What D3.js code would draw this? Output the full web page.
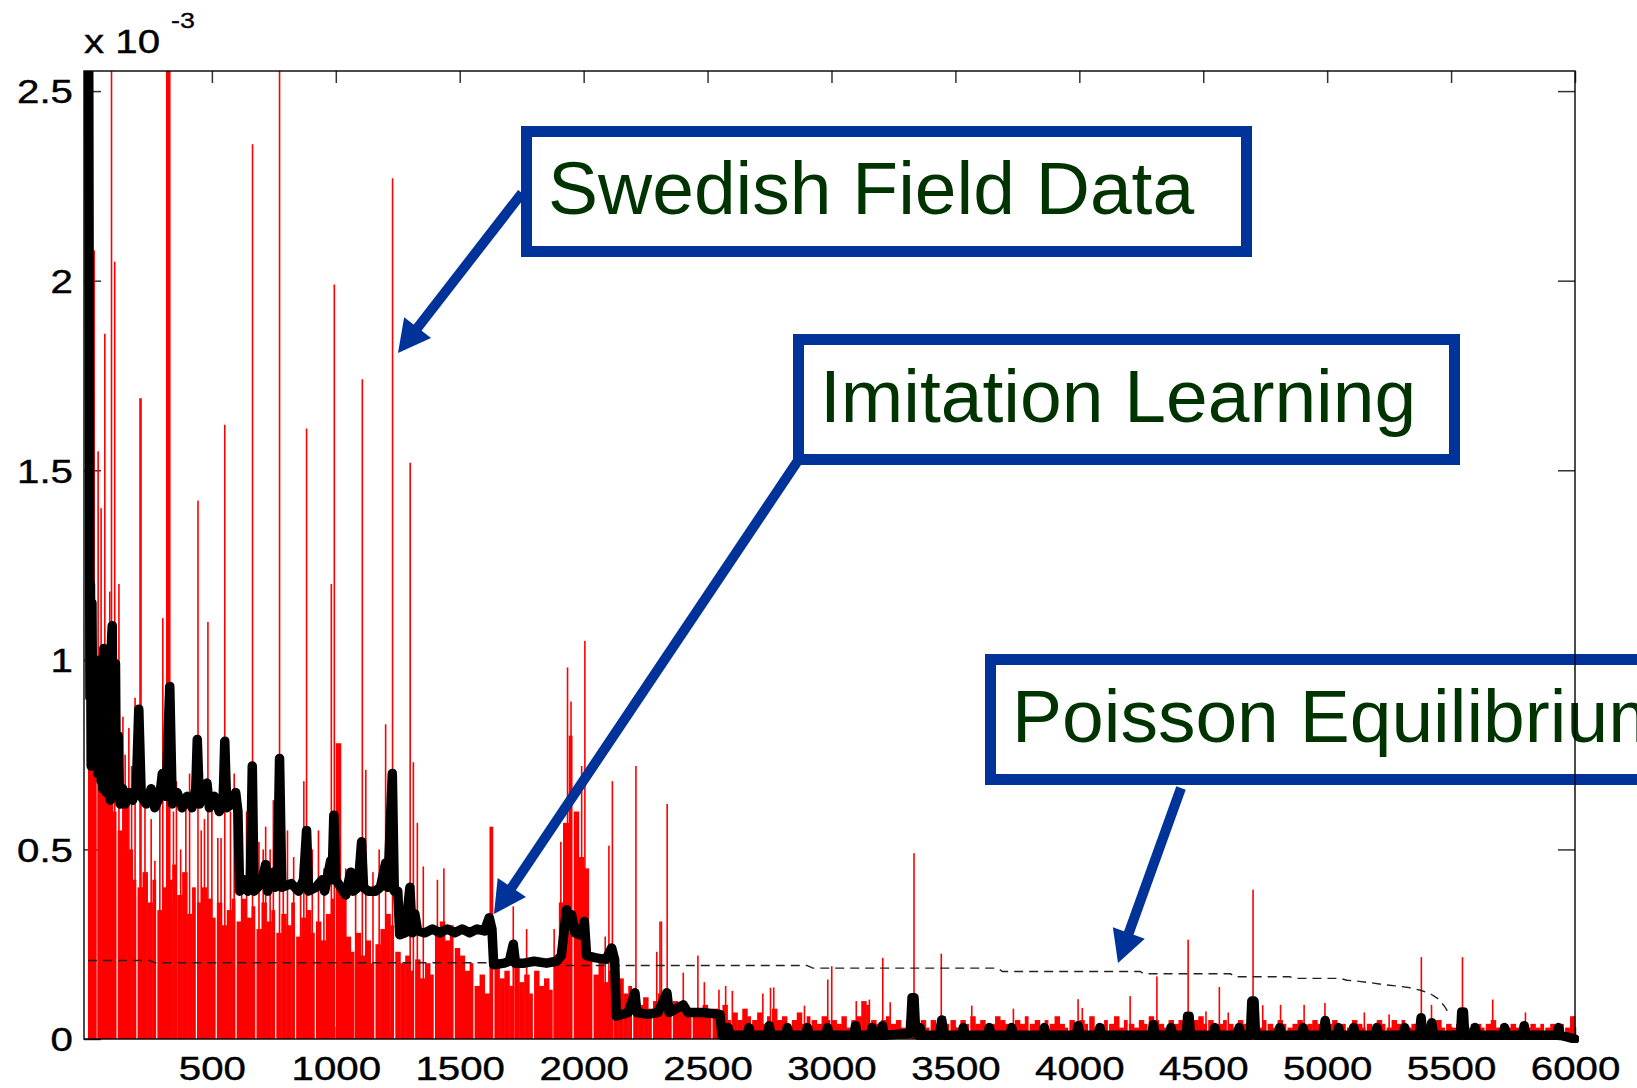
<!DOCTYPE html>
<html>
<head>
<meta charset="utf-8">
<script src="https://cdn.jsdelivr.net/npm/d3@7"></script>
<style>
  body { margin: 0; background: #fff; }
  svg { display: block; }
  text { font-family: "Liberation Sans", Arial, Helvetica, sans-serif; }
</style>
</head>
<body>
<script>
// all values in units of 10^-3
// Swedish field data: envelope of the bars, one value per 20 rounds (0, 20, 40, ...)
var fieldBinWidth = 20;
var fieldBins = [
  1.78, 0.99, 0.72, 0.64, 0.66, 0.60, 0.55, 0.62, 0.50, 0.42,
  0.40, 0.44, 0.36, 0.42, 0.34, 0.40, 0.42, 0.46, 0.38, 0.44,
  0.33, 0.40, 0.36, 0.40, 0.37, 0.32, 0.36, 0.30, 0.34, 0.37,
  0.31, 0.37, 0.32, 0.35, 0.29, 0.36, 0.31, 0.34, 0.28, 0.33,
  0.30, 0.36, 0.27, 0.32, 0.34, 0.28, 0.31, 0.26, 0.33, 0.37,
  0.78, 0.40, 0.27, 0.23, 0.28, 0.22, 0.26, 0.20, 0.25, 0.29,
  0.33, 0.30, 0.23, 0.20, 0.22, 0.18, 0.21, 0.16, 0.20, 0.17,
  0.28, 0.31, 0.26, 0.30, 0.24, 0.22, 0.18, 0.20, 0.14, 0.17,
  0.12, 0.56, 0.20, 0.16, 0.18, 0.14, 0.19, 0.15, 0.17, 0.12,
  0.18, 0.14, 0.16, 0.13, 0.20, 0.36, 0.57, 0.80, 0.60, 0.48,
  0.45, 0.22, 0.17, 0.21, 0.15, 0.18, 0.13, 0.16, 0.12, 0.14,
  0.10, 0.09, 0.11, 0.08, 0.10, 0.12, 0.09, 0.07, 0.10, 0.08,
  0.09, 0.06, 0.08, 0.07, 0.09, 0.06, 0.08, 0.07, 0.09, 0.05,
  0.07, 0.05, 0.08, 0.06, 0.05, 0.07, 0.04, 0.06, 0.08, 0.05,
  0.06, 0.04, 0.05, 0.07, 0.04, 0.06, 0.05, 0.04, 0.06, 0.05,
  0.05, 0.04, 0.06, 0.03, 0.05, 0.06, 0.10, 0.09, 0.05, 0.04,
  0.05, 0.06, 0.04, 0.05, 0.03, 0.05, 0.06, 0.04, 0.05, 0.03,
  0.05, 0.04, 0.06, 0.04, 0.05, 0.03, 0.05, 0.04, 0.06, 0.04,
  0.05, 0.03, 0.04, 0.06, 0.05, 0.04, 0.03, 0.05, 0.04, 0.06,
  0.04, 0.05, 0.03, 0.05, 0.04, 0.06, 0.04, 0.03, 0.05, 0.04,
  0.05, 0.04, 0.06, 0.03, 0.04, 0.05, 0.04, 0.06, 0.03, 0.05,
  0.04, 0.03, 0.05, 0.04, 0.06, 0.05, 0.04, 0.03, 0.05, 0.04,
  0.05, 0.04, 0.03, 0.05, 0.06, 0.04, 0.05, 0.03, 0.04, 0.05,
  0.04, 0.03, 0.05, 0.04, 0.06, 0.04, 0.03, 0.05, 0.04, 0.03,
  0.05, 0.04, 0.03, 0.04, 0.05, 0.03, 0.04, 0.05, 0.04, 0.03,
  0.04, 0.05, 0.03, 0.04, 0.03, 0.05, 0.04, 0.03, 0.04, 0.03,
  0.05, 0.04, 0.03, 0.05, 0.04, 0.05, 0.03, 0.04, 0.05, 0.04,
  0.03, 0.04, 0.05, 0.03, 0.04, 0.03, 0.04, 0.05, 0.03, 0.04,
  0.04, 0.03, 0.04, 0.05, 0.03, 0.04, 0.03, 0.04, 0.03, 0.04,
  0.03, 0.04, 0.03, 0.04, 0.03, 0.04, 0.03, 0.04, 0.03, 0.06
];

// single tall bars of the field data [round, value]
var fieldSpikes = [
  [18, 1.78], [25, 2.08], [41, 1.55], [53, 1.40], [68, 1.86], [88, 1.18], [95, 2.60],
  [108, 2.05], [125, 1.20], [141, 0.85], [150, 0.75], [165, 0.82], [176, 0.72], [190, 0.90],
  [210, 1.69], [214, 1.69], [230, 0.62], [255, 0.58], [270, 0.47], [290, 0.66], [302, 1.11],
  [318, 2.60], [321, 2.60], [324, 2.60], [327, 2.60], [330, 2.60], [345, 0.60], [357, 0.68],
  [374, 0.50], [395, 0.62], [410, 0.70], [444, 1.42], [457, 0.55], [470, 0.58], [484, 1.10],
  [500, 0.64], [524, 0.53], [537, 0.53], [552, 1.62], [575, 0.60], [590, 0.70], [620, 0.55],
  [640, 0.60], [664, 2.36], [690, 0.52], [707, 0.50], [717, 0.56], [735, 0.50], [748, 0.63],
  [773, 2.60], [788, 0.44], [805, 0.55], [830, 0.48], [858, 0.46], [871, 0.68], [882, 1.61],
  [905, 0.50], [930, 0.55], [952, 0.45], [982, 1.20], [994, 1.99], [1040, 0.45], [1080, 0.42],
  [1107, 1.74], [1121, 0.71], [1150, 0.44], [1175, 0.50], [1201, 0.83], [1229, 2.27],
  [1300, 1.52], [1313, 0.73], [1329, 0.57], [1353, 0.455], [1410, 0.42], [1436, 0.45],
  [1716, 0.35], [1770, 0.29], [1881, 0.29], [1908, 0.52], [1920, 0.57], [1935, 0.98],
  [1949, 0.89], [1992, 0.72], [2005, 1.05], [2087, 0.27], [2102, 0.51], [2116, 0.68],
  [2211, 0.72], [2295, 0.23], [2308, 0.31], [2314, 0.31], [2337, 0.62], [2402, 0.175],
  [2461, 0.22], [2487, 0.15], [2546, 0.13], [2573, 0.14], [2600, 0.127], [2723, 0.12],
  [2754, 0.135], [2767, 0.136], [2891, 0.088], [2985, 0.157], [3001, 0.192], [3100, 0.10],
  [3153, 0.104], [3207, 0.214], [3237, 0.097], [3333, 0.49], [3443, 0.225], [3566, 0.088],
  [3734, 0.08], [3995, 0.105], [4012, 0.082], [4205, 0.113], [4313, 0.165], [4439, 0.262],
  [4511, 0.073], [4565, 0.137], [4601, 0.07], [4701, 0.394], [4740, 0.089], [4812, 0.09],
  [4907, 0.09], [4991, 0.095], [5150, 0.07], [5250, 0.065], [5380, 0.216], [5421, 0.09],
  [5546, 0.216], [5668, 0.104], [5800, 0.07], [5996, 0.06]
];

// imitation learning model [round, value]
var imitation = [
  [0, 2.6], [3, 2.6], [6, 1.58], [8, 0.9], [10, 1.2], [13, 0.72], [16, 1.15], [19, 0.8],
  [22, 1.0], [25, 0.72], [28, 0.98], [31, 0.75], [34, 0.95], [37, 0.99], [40, 0.70],
  [44, 0.95], [47, 0.72], [50, 1.0], [53, 0.68], [57, 0.96], [60, 0.66], [64, 1.03],
  [67, 0.70], [71, 0.98], [74, 0.65], [78, 0.9], [82, 0.66], [86, 0.85], [90, 0.63],
  [95, 1.05], [98, 1.09], [101, 0.72], [105, 0.95], [108, 0.66], [111, 0.99], [114, 0.70],
  [118, 0.64], [122, 0.80], [126, 0.66], [130, 0.62],
  [140, 0.66], [150, 0.62], [165, 0.65], [180, 0.63], [195, 0.66], [205, 0.87], [215, 0.64],
  [235, 0.62], [255, 0.66], [270, 0.61], [290, 0.64], [300, 0.70], [315, 0.64], [330, 0.93],
  [340, 0.62], [360, 0.65], [380, 0.61], [400, 0.64], [420, 0.61], [435, 0.66], [441, 0.79],
  [450, 0.62], [470, 0.66], [480, 0.675], [490, 0.61], [510, 0.64], [530, 0.60], [545, 0.62],
  [552, 0.785], [560, 0.61], [580, 0.62], [596, 0.65], [605, 0.60], [612, 0.39], [630, 0.42],
  [645, 0.39], [655, 0.41], [663, 0.72], [670, 0.39], [700, 0.41], [717, 0.46], [725, 0.39],
  [746, 0.44], [755, 0.40], [765, 0.42], [773, 0.74], [782, 0.40], [820, 0.41], [850, 0.39],
  [870, 0.42], [882, 0.55], [890, 0.39], [920, 0.40], [945, 0.42], [955, 0.39], [979, 0.47],
  [985, 0.42], [992, 0.59], [1000, 0.42], [1020, 0.40], [1040, 0.38], [1060, 0.44],
  [1070, 0.39], [1090, 0.40], [1104, 0.52], [1112, 0.40], [1130, 0.39], [1160, 0.39],
  [1180, 0.40], [1201, 0.464], [1210, 0.40], [1228, 0.70], [1236, 0.39], [1250, 0.39],
  [1258, 0.275], [1280, 0.28], [1299, 0.40], [1308, 0.28], [1319, 0.33], [1330, 0.285],
  [1360, 0.28], [1390, 0.29], [1420, 0.28], [1450, 0.29], [1480, 0.28], [1510, 0.29],
  [1540, 0.28], [1570, 0.29], [1600, 0.285], [1619, 0.32], [1630, 0.29], [1637, 0.196],
  [1680, 0.20], [1700, 0.205], [1716, 0.25], [1725, 0.20], [1760, 0.20], [1800, 0.205],
  [1850, 0.20], [1890, 0.205], [1910, 0.22], [1931, 0.341], [1945, 0.30], [1951, 0.328],
  [1965, 0.28], [1985, 0.275], [2003, 0.31], [2012, 0.22], [2050, 0.214], [2090, 0.21],
  [2113, 0.24], [2125, 0.21], [2132, 0.06], [2180, 0.07], [2207, 0.122], [2215, 0.07],
  [2260, 0.065], [2300, 0.07], [2336, 0.122], [2345, 0.07], [2402, 0.09], [2420, 0.07],
  [2480, 0.07], [2550, 0.065], [2558, 0.01], [2578, 0.01], [2583, 0.03], [2590, 0.01],
  [2660, 0.01], [2667, 0.03], [2674, 0.01], [2742, 0.01], [2749, 0.035], [2756, 0.01],
  [2815, 0.01], [2822, 0.03], [2829, 0.01], [2896, 0.01], [2903, 0.03], [2910, 0.01],
  [2977, 0.01], [2984, 0.03], [2991, 0.01], [3090, 0.01], [3097, 0.035], [3104, 0.01],
  [3157, 0.01], [3164, 0.03], [3171, 0.01], [3199, 0.01], [3206, 0.035], [3213, 0.01],
  [3318, 0.015], [3325, 0.109], [3333, 0.109], [3340, 0.015], [3350, 0.01], [3357, 0.03],
  [3364, 0.01], [3436, 0.01], [3445, 0.05], [3454, 0.01], [3525, 0.01], [3532, 0.03],
  [3539, 0.01], [3630, 0.01], [3637, 0.03], [3644, 0.01], [3720, 0.01], [3727, 0.03],
  [3734, 0.01], [3852, 0.01], [3859, 0.03], [3866, 0.01], [3988, 0.01], [3995, 0.035],
  [4002, 0.01], [4076, 0.01], [4083, 0.03], [4090, 0.01], [4292, 0.01], [4299, 0.038],
  [4306, 0.01], [4363, 0.01], [4370, 0.03], [4377, 0.01], [4432, 0.01], [4437, 0.06],
  [4443, 0.06], [4448, 0.01], [4540, 0.01], [4547, 0.03], [4554, 0.01], [4638, 0.01],
  [4645, 0.03], [4652, 0.01], [4690, 0.01], [4696, 0.10], [4705, 0.10], [4711, 0.01],
  [4802, 0.01], [4809, 0.03], [4816, 0.01], [4896, 0.01], [4903, 0.03], [4910, 0.01],
  [4984, 0.01], [4992, 0.049], [5000, 0.01], [5039, 0.01], [5046, 0.03], [5053, 0.01],
  [5100, 0.01], [5107, 0.03], [5114, 0.01], [5194, 0.01], [5201, 0.03], [5208, 0.01],
  [5306, 0.01], [5313, 0.03], [5320, 0.01], [5372, 0.01], [5379, 0.056], [5386, 0.01],
  [5415, 0.01], [5422, 0.043], [5429, 0.01], [5538, 0.01], [5543, 0.071], [5550, 0.071],
  [5555, 0.01], [5590, 0.01], [5597, 0.03], [5604, 0.01], [5709, 0.01], [5716, 0.03],
  [5723, 0.01], [5788, 0.01], [5795, 0.035], [5802, 0.01], [5927, 0.01], [5934, 0.03],
  [5941, 0.01], [6000, 0.0]
];

// Poisson equilibrium [round, value]
var poisson = [
  [0, 0.207], [250, 0.207], [270, 0.201], [1925, 0.201], [1930, 0.194], [2900, 0.194],
  [2925, 0.187], [3670, 0.187], [3690, 0.178], [4245, 0.178], [4260, 0.172], [4610, 0.172],
  [4630, 0.164], [4850, 0.164], [4870, 0.160], [5050, 0.160], [5080, 0.155], [5130, 0.152],
  [5180, 0.148], [5230, 0.143], [5280, 0.140], [5335, 0.135], [5380, 0.128], [5415, 0.120],
  [5450, 0.105], [5475, 0.085], [5492, 0.065]
];

var xTicks = [500, 1000, 1500, 2000, 2500, 3000, 3500, 4000, 4500, 5000, 5500, 6000];
var yTicks = [0, 0.5, 1, 1.5, 2, 2.5];
var yExponent = "-3";

var labels = ["Swedish Field Data", "Imitation Learning", "Poisson Equilibrium"];

var width = 1637, height = 1088;
var plotLeft = 84, plotRight = 1575, plotTop = 71, plotBottom = 1039;
var stretch = 1.22;   // tick labels in the original are widened
var blue = "#003399", green = "#003300";

var svg = d3.select("body").append("svg")
    .attr("width", width)
    .attr("height", height);

var x = d3.scaleLinear().domain([-16, 6000]).range([plotLeft, plotRight]);
var y = d3.scaleLinear().domain([0, 2.553]).range([plotBottom, plotTop]);

svg.append("clipPath").attr("id", "plot")
    .append("rect")
    .attr("x", plotLeft).attr("y", plotTop)
    .attr("width", plotRight - plotLeft + 4).attr("height", plotBottom - plotTop + 4);

// ticks (under the data, like matlab)
var gx = svg.append("g")
    .attr("transform", "translate(0," + plotBottom + ")")
    .call(d3.axisBottom(x).tickValues(xTicks).tickSize(-12).tickFormat(d3.format("d")));
var gxTop = svg.append("g")
    .attr("transform", "translate(0," + plotTop + ")")
    .call(d3.axisTop(x).tickValues(xTicks).tickSize(-12).tickFormat(""));
var gy = svg.append("g")
    .attr("transform", "translate(" + plotLeft + ",0)")
    .call(d3.axisLeft(y).tickValues(yTicks).tickSize(-17).tickFormat(function (d) { return String(d); }));
var gyRight = svg.append("g")
    .attr("transform", "translate(" + plotRight + ",0)")
    .call(d3.axisRight(y).tickValues(yTicks).tickSize(-17).tickFormat(""));

[gx, gxTop, gy, gyRight].forEach(function (g) {
    g.select(".domain").remove();
    g.selectAll(".tick line").attr("stroke", "#333").attr("stroke-width", 1.5);
});

gx.selectAll("text")
    .attr("font-size", 33)
    .attr("fill", "#000")
    .attr("stroke", "#000")
    .attr("stroke-width", 0.4)
    .attr("y", 41)
    .attr("dy", "0")
    .attr("transform", "scale(" + stretch + ",1)");

gy.selectAll("text")
    .attr("font-size", 33)
    .attr("fill", "#000")
    .attr("stroke", "#000")
    .attr("stroke-width", 0.4)
    .attr("x", -11 / stretch)
    .attr("dy", "0.36em")
    .attr("transform", "scale(" + stretch + ",1)");

svg.append("text")
    .attr("transform", "translate(84,53) scale(" + stretch + ",1)")
    .attr("font-size", 33)
    .attr("stroke", "#000")
    .attr("stroke-width", 0.4)
    .text("x 10");
svg.append("text")
    .attr("transform", "translate(171,28) scale(" + stretch + ",1)")
    .attr("font-size", 22)
    .attr("stroke", "#000")
    .attr("stroke-width", 0.3)
    .text(yExponent);

var plot = svg.append("g").attr("clip-path", "url(#plot)");

// red field data bars
plot.append("g")
    .selectAll("rect")
    .data(fieldBins)
    .enter().append("rect")
    .attr("x", function (d, i) { return x(i * fieldBinWidth); })
    .attr("width", function (d, i) {
        var w = x((i + 1) * fieldBinWidth) - x(i * fieldBinWidth);
        return i % 4 === 1 ? w - 1.2 : w + 0.5;
    })
    .attr("y", function (d) { return y(d); })
    .attr("height", function (d) { return y(0) - y(d); })
    .attr("fill", "#ff0000");

plot.append("g")
    .selectAll("rect")
    .data(fieldSpikes)
    .enter().append("rect")
    .attr("x", function (d) { return x(d[0]) - 0.8; })
    .attr("width", 1.6)
    .attr("y", function (d) { return y(d[1]); })
    .attr("height", function (d) { return y(0) - y(d[1]); })
    .attr("fill", "#ff0000");

var line = d3.line()
    .x(function (d) { return x(d[0]); })
    .y(function (d) { return y(d[1]); });

// poisson equilibrium, thin dashed
plot.append("path")
    .datum(poisson)
    .attr("d", line)
    .attr("fill", "none")
    .attr("stroke", "#222")
    .attr("stroke-width", 1.4)
    .attr("stroke-dasharray", "9,6");

// imitation learning, thick black
plot.append("path")
    .datum(imitation)
    .attr("d", line)
    .attr("fill", "none")
    .attr("stroke", "#000")
    .attr("stroke-width", 9.5)
    .attr("stroke-linejoin", "round")
    .attr("stroke-linecap", "round");

// annotation boxes
var boxes = [
    { x: 521, y: 126, w: 731, text: labels[0] },
    { x: 793, y: 334, w: 667, text: labels[1] },
    { x: 985, y: 654, w: 720, text: labels[2] }
];

boxes.forEach(function (b) {
    svg.append("rect")
        .attr("x", b.x + 5.5).attr("y", b.y + 5.5)
        .attr("width", b.w - 11).attr("height", 120)
        .attr("fill", "none")
        .attr("stroke", blue)
        .attr("stroke-width", 11);
    svg.append("text")
        .attr("x", b.x + 27)
        .attr("y", b.y + 88)
        .attr("font-size", 75)
        .attr("fill", green)
        .text(b.text);
});

function arrow(x1, y1, x2, y2) {
    var dx = x2 - x1, dy = y2 - y1, len = Math.sqrt(dx * dx + dy * dy);
    var ux = dx / len, uy = dy / len;
    var headLen = 32, headW = 34;
    var bx = x2 - ux * headLen, by = y2 - uy * headLen;
    svg.append("line")
        .attr("x1", x1).attr("y1", y1)
        .attr("x2", bx + ux * 2).attr("y2", by + uy * 2)
        .attr("stroke", blue)
        .attr("stroke-width", 10);
    svg.append("polygon")
        .attr("points", [
            [x2, y2],
            [bx - uy * headW / 2, by + ux * headW / 2],
            [bx + uy * headW / 2, by - ux * headW / 2]
        ].map(function (p) { return p.join(","); }).join(" "))
        .attr("fill", blue);
}

arrow(522, 193, 398, 353);
arrow(797, 462, 494, 914);
arrow(1181, 788, 1118, 963);

// axes box on top
svg.append("rect")
    .attr("x", plotLeft).attr("y", plotTop)
    .attr("width", plotRight - plotLeft).attr("height", plotBottom - plotTop)
    .attr("fill", "none")
    .attr("stroke", "#000")
    .attr("stroke-width", 1.4);
</script>
</body>
</html>
